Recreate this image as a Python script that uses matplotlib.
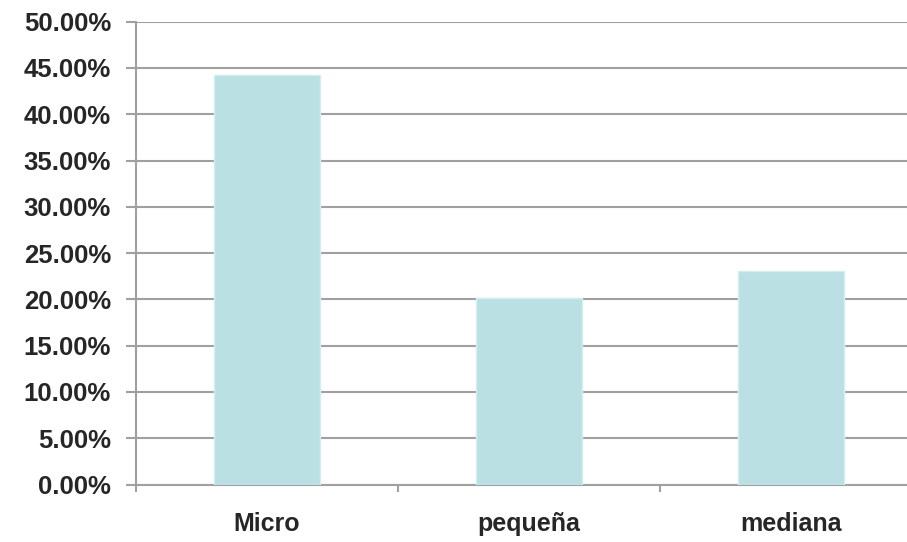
import matplotlib
matplotlib.use("Agg")
import matplotlib.pyplot as plt
from matplotlib.ticker import FuncFormatter, MultipleLocator

# Participación por tamaño de empresa
categorias = ["Micro", "pequeña", "mediana"]
porcentajes = [44.2, 20.2, 23.1]

plt.rcParams['font.family'] = ['Liberation Sans', 'DejaVu Sans']

fig = plt.figure(figsize=(9.07, 5.42), dpi=100)
ax = fig.add_axes([0.150, 0.106, 0.867, 0.854])

x = range(len(categorias))
ax.bar(x, porcentajes, width=0.405, color="#bae0e3", edgecolor="#d4eef0",
       linewidth=1.0, zorder=3)

ax.set_xlim(-0.5, 2.5)
ax.set_ylim(0, 50)
ax.yaxis.set_major_locator(MultipleLocator(5))
ax.yaxis.set_major_formatter(FuncFormatter(lambda v, p: f"{v:.2f}%"))
ax.grid(axis="y", color="#a0a0a0", linewidth=1.5, zorder=0)

# marcas del eje x en los límites entre categorías
ax.set_xticks([-0.5, 0.5, 1.5, 2.5])
ax.set_xticklabels([])
ax.set_xticks(list(x), minor=True)
ax.set_xticklabels(categorias, minor=True, fontweight="bold")
ax.tick_params(axis="x", which="minor", length=0, pad=20, labelsize=18,
               labelcolor="#262626")
ax.tick_params(axis="x", which="major", length=5, width=1.5, color="#a0a0a0")
ax.tick_params(axis="y", length=7, width=1.5, color="#a0a0a0", pad=11,
               labelsize=18.5, labelcolor="#262626")
for lbl in ax.get_yticklabels():
    lbl.set_fontweight("bold")

for s in ["top", "right"]:
    ax.spines[s].set_visible(False)
ax.spines["left"].set_color("#a0a0a0")
ax.spines["left"].set_linewidth(1.5)
ax.spines["bottom"].set_color("#a0a0a0")
ax.spines["bottom"].set_linewidth(1.5)

fig.savefig("out.png", dpi=100)
